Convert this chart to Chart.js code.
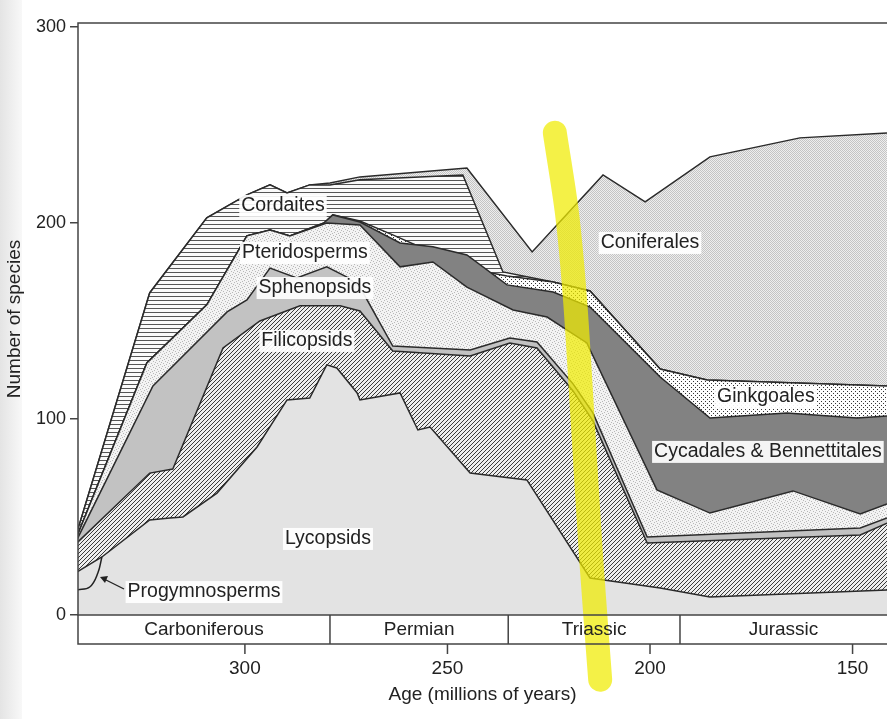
<!DOCTYPE html>
<html>
<head>
<meta charset="utf-8">
<script src="https://cdn.jsdelivr.net/npm/chart.js@4.4.0/dist/chart.umd.min.js"></script>
<style>
  html, body { margin: 0; padding: 0; background: #fff; }
  #wrap { position: relative; width: 887px; height: 719px; }
  #edge { position: absolute; left: 0; top: 0; width: 22px; height: 719px;
          background: linear-gradient(to right, #e4e4e4, #f8f8f8); }
  canvas { position: absolute; left: 0; top: 0; }
</style>
</head>
<body>
<div id="wrap"><div id="edge"></div><canvas id="chart" width="887" height="719"></canvas></div>
<script>
// ==================== DATA (age in Ma, cumulative species) =====================
const lycopsidsTop = [[341.5,21.9],[335.3,29.6],[323.5,48.5],[318.5,49.5],[315.3,50],[306.9,62.2],[297,85.7],[289.6,109.7],[284,110.7],[279.8,127.6],[277.3,126],[272.3,113.3],[271.6,109.7],[261.7,113.3],[257.3,94.4],[254.3,95.9],[244.4,72.4],[230.4,68.9],[214.8,18.9],[197.5,13.8],[185.2,9.2],[141.5,12.8]];
const filicopsidsTop = [[341.5,36.7],[323.5,72.4],[317.8,74.5],[305.4,136.2],[296.3,150],[286.4,157.7],[276.5,157.7],[271.6,155.1],[263.5,134.7],[244.4,132.1],[234.6,138.8],[227.9,136.2],[219,114.3],[214.1,99],[200.7,36.7],[148.1,40.8],[141.5,46.9]];
const sphenopsidsTop = [[341.5,38.3],[322.7,116.8],[304.4,154.6],[299.5,160.7],[293.8,177],[287.2,171.9],[279.8,177.6],[274.8,172.4],[271.6,167.3],[263.5,137.2],[244.4,135.2],[234.6,141.3],[227.9,139.3],[219,117.9],[214.1,103.1],[200.7,39.8],[148.1,44.4],[141.5,49.5]];
const pteridospermsTop = [[341.5,39.8],[324.2,128.6],[309.4,158.2],[299.5,193.4],[293.8,196.4],[288.9,193.4],[279.8,200],[271.6,198.9],[261.7,177.6],[253.6,180.1],[245.2,167.3],[233.8,155.6],[225.4,152],[215.6,138.8],[198.3,63.8],[185.2,52],[164.7,63.3],[148.1,51.5],[141.5,56.6]];
const cycadalesTop = [[341.5,39.8],[324.2,128.6],[309.4,158.2],[299.5,193.4],[293.8,196.4],[288.9,193.4],[280.5,200],[278.3,204.1],[271.6,200.5],[261.7,189.8],[253.6,187.8],[245.2,183.7],[235.3,168.4],[223.9,164.8],[214.8,157.1],[197.5,121.4],[185.2,100.5],[166.2,103.1],[148.9,100.5],[141.5,101.5]];
const ginkgoalesTop = [[341.5,39.8],[324.2,128.6],[309.4,158.2],[299.5,193.4],[293.8,196.4],[288.9,193.4],[280.5,200],[278.3,204.1],[271.6,201],[263.5,193.9],[244.4,176.5],[235.3,172.9],[223.9,169.9],[214.8,165.3],[197.5,125.5],[185.9,119.9],[141.5,116.8]];
const cordaitesTop = [[341.5,41.8],[323.5,164.3],[309.4,202.6],[299.5,214.3],[293.8,219.4],[289.6,215.3],[284,219.4],[279,219.4],[271.6,222],[246.2,224.5],[236.3,175],[223.9,169.9],[214.8,165.3],[197.5,125.5],[185.9,119.9],[141.5,116.8]];
const coniferalesTop = [[341.5,41.8],[323.5,164.3],[309.4,202.6],[299.5,214.3],[293.8,219.4],[289.6,215.3],[284,219.4],[279,220.4],[271.6,223.5],[245.2,228],[229.1,185.2],[211.6,224.5],[201.2,210.7],[185.2,233.7],[163,243.4],[141.5,245.9]];
const progymnospermsArc = [[341.5,12.8],[338.3,14.3],[336.3,21.4],[335.3,29.6]];
const highlighter = [[223.5,246],[220.5,205],[218.5,160.7],[216.5,95],[214.5,28],[212.3,-33]];
const periods = [
  { name: "Carboniferous", from: 341.2, to: 279 },
  { name: "Permian", from: 279, to: 235 },
  { name: "Triassic", from: 235, to: 192.6 },
  { name: "Jurassic", from: 192.6, to: 141.5 },
];
const xTicks = [300, 250, 200, 150];
const yTicks = [0, 100, 200, 300];
const labels = [
  { text: "Cordaites", x: 290.6, y: 208.7 },
  { text: "Pteridosperms", x: 285.2, y: 184.7 },
  { text: "Sphenopsids", x: 282.7, y: 166.8 },
  { text: "Filicopsids", x: 284.7, y: 139.8 },
  { text: "Lycopsids", x: 279.5, y: 38.8 },
  { text: "Progymnosperms", x: 310.1, y: 11.7 },
  { text: "Coniferales", x: 200, y: 189.8 },
  { text: "Ginkgoales", x: 171.4, y: 111.2 },
  { text: "Cycadales & Bennettitales", x: 170.9, y: 83.2 },
];

const toXY = (arr) => arr.map((p) => ({ x: p[0], y: p[1] }));
const FONT = "'Liberation Sans', Arial, sans-serif";

// ============== PATTERNS ===============
function tile(w, h, draw) {
  const c = document.createElement("canvas");
  c.width = w; c.height = h;
  draw(c.getContext("2d"));
  return document.getElementById("chart").getContext("2d").createPattern(c, "repeat");
}
const diagHatch = tile(4, 4, (g) => {
  g.fillStyle = "#ededed"; g.fillRect(0, 0, 4, 4);
  g.strokeStyle = "#3a3a3a"; g.lineWidth = 1;
  g.beginPath(); g.moveTo(0, 4); g.lineTo(4, 0); g.moveTo(-1, 1); g.lineTo(1, -1); g.moveTo(3, 5); g.lineTo(5, 3); g.stroke();
});
const horizHatch = tile(4, 4, (g) => {
  g.fillStyle = "#fafafa"; g.fillRect(0, 0, 4, 4);
  g.fillStyle = "#555"; g.fillRect(0, 0, 4, 1);
});
const stipple = tile(6, 6, (g) => {
  g.fillStyle = "#f3f3f3"; g.fillRect(0, 0, 6, 6);
  g.fillStyle = "#b8b8b8";
  [[0,0],[3,1],[1,3],[4,4],[5,2],[2,5]].forEach((d) => g.fillRect(d[0], d[1], 1, 1));
});
const dots = tile(4, 4, (g) => {
  g.fillStyle = "#fdfdfd"; g.fillRect(0, 0, 4, 4);
  g.fillStyle = "#333"; g.fillRect(1, 1, 1, 1); g.fillRect(3, 3, 1, 1);
});
const checker = tile(2, 2, (g) => {
  g.fillStyle = "#eeeeee"; g.fillRect(0, 0, 2, 2);
  g.fillStyle = "#c4c4c4"; g.fillRect(0, 0, 1, 1); g.fillRect(1, 1, 1, 1);
});

function band(label, data, fill, bg) {
  return {
    label, data: toXY(data), fill, backgroundColor: bg,
    borderColor: "#2a2a2a", borderWidth: 1.5, pointRadius: 0, tension: 0,
  };
}

// ============== DECORATION PLUGIN ===============
const decor = {
  id: "decor",
  afterDatasetsDraw(chart) {
    const { ctx, chartArea: a, scales: { x, y } } = chart;
    ctx.save();
    // frame
    ctx.strokeStyle = "#444"; ctx.lineWidth = 1.5;
    ctx.strokeRect(a.left, a.top, a.right - a.left + 2, a.bottom - a.top);
    // period band + x ticks
    const bandBottom = a.bottom + 29;
    ctx.beginPath();
    ctx.moveTo(a.left, a.bottom); ctx.lineTo(a.left, bandBottom); ctx.lineTo(a.right + 2, bandBottom);
    periods.forEach((p, i) => {
      if (i > 0) { const px = x.getPixelForValue(p.from); ctx.moveTo(px, a.bottom); ctx.lineTo(px, bandBottom); }
    });
    xTicks.forEach((t) => { const px = x.getPixelForValue(t); ctx.moveTo(px, bandBottom); ctx.lineTo(px, bandBottom + 10); });
    ctx.stroke();
    ctx.fillStyle = "#222"; ctx.font = "19px " + FONT; ctx.textAlign = "center"; ctx.textBaseline = "middle";
    periods.forEach((p) => {
      const l = x.getPixelForValue(p.from), r = Math.min(x.getPixelForValue(p.to), a.right);
      ctx.fillText(p.name, (l + r) / 2, a.bottom + 15);
    });
    xTicks.forEach((t) => ctx.fillText(String(t), x.getPixelForValue(t), bandBottom + 25));
    ctx.fillText("Age (millions of years)", (a.left + a.right) / 2 + 0, bandBottom + 51);
    ctx.save();
    ctx.translate(15, (a.top + a.bottom) / 2); ctx.rotate(-Math.PI / 2);
    ctx.fillText("Number of species", 0, 0);
    ctx.restore();
    // arrow for progymnosperms
    ctx.strokeStyle = "#222"; ctx.lineWidth = 1.3;
    ctx.beginPath(); ctx.moveTo(124, 589); ctx.lineTo(102, 578); ctx.stroke();
    ctx.beginPath(); ctx.moveTo(100, 577); ctx.lineTo(108, 576); ctx.lineTo(105, 583); ctx.closePath(); ctx.fill();
    // labels
    ctx.font = "19.5px " + FONT;
    labels.forEach((lb) => {
      const px = x.getPixelForValue(lb.x), py = y.getPixelForValue(lb.y);
      const w = ctx.measureText(lb.text).width;
      ctx.fillStyle = "rgba(255,255,255,0.92)";
      ctx.fillRect(px - w / 2 - 2, py - 11, w + 4, 22);
      ctx.fillStyle = "#222";
      ctx.fillText(lb.text, px, py);
    });
    ctx.restore();
  },
};

// ============== CHART ===============
new Chart(document.getElementById("chart"), {
  type: "line",
  data: {
    datasets: [
      band("Lycopsids", lycopsidsTop, "origin", "#e3e3e3"),
      band("Filicopsids", filicopsidsTop, "-1", diagHatch),
      band("Sphenopsids", sphenopsidsTop, "-1", "#c2c2c2"),
      band("Pteridosperms", pteridospermsTop, "-1", stipple),
      band("Cycadales & Bennettitales", cycadalesTop, "-1", "#828282"),
      band("Ginkgoales", ginkgoalesTop, "-1", dots),
      band("Cordaites", cordaitesTop, "-1", horizHatch),
      band("Coniferales", coniferalesTop, "-1", checker),
      { label: "Progymnosperms", data: toXY(progymnospermsArc), fill: false, borderColor: "#222",
        borderWidth: 1.5, pointRadius: 0, tension: 0.4, order: -1 },
      { label: "highlight", data: toXY(highlighter), fill: false, borderColor: "rgba(240,235,0,0.72)",
        borderWidth: 24, pointRadius: 0, tension: 0.3, clip: false, borderCapStyle: "round", order: -2 },
    ],
  },
  options: {
    responsive: false,
    animation: false,
    layout: { padding: { left: 0, right: 0, top: 23, bottom: 96 } },
    plugins: { legend: { display: false }, tooltip: { enabled: false } },
    scales: {
      x: {
        type: "linear", reverse: true, min: 141.5, max: 341.2,
        grid: { display: false }, border: { display: false },
        ticks: { display: false },
      },
      y: {
        min: 0, max: 302,
        afterBuildTicks: (s) => { s.ticks = yTicks.map((v) => ({ value: v })); },
        afterFit: (s) => { s.width = 78; },
        grid: { drawOnChartArea: false, tickLength: 8, color: "#444", lineWidth: 1.5 },
        border: { display: false },
        ticks: { padding: 4, color: "#222", font: { size: 18, family: FONT } },
      },
    },
  },
  plugins: [decor],
});
</script>
</body>
</html>
